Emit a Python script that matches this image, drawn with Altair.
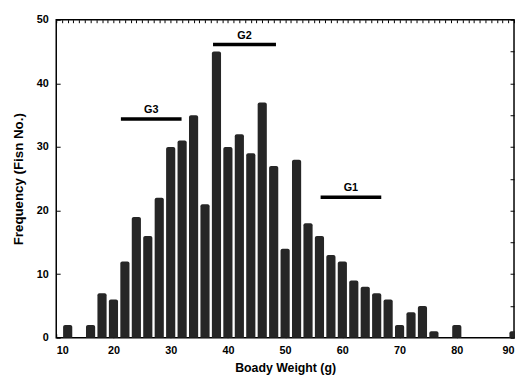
import altair as alt
import pandas as pd

# Histogram of body weight (bin centres in g) and counts
weights = [12, 14, 16, 18, 20, 22, 24, 26, 28, 30, 32, 34, 36, 38, 40, 42, 44, 46, 48, 50,
           52, 54, 56, 58, 60, 62, 64, 66, 68, 70, 72, 74, 76, 78, 80, 82, 84, 86, 88, 90]
counts = [2, 0, 2, 7, 6, 12, 19, 16, 22, 30, 31, 35, 21, 45, 30, 32, 29, 37, 27, 14,
          28, 18, 16, 13, 12, 9, 8, 7, 6, 2, 4, 5, 1, 0, 2, 0, 0, 0, 0, 1]

# Group markers
group_names = ["G1", "G2", "G3"]
group_start = [56.2, 37.4, 21.3]
group_end = [66.8, 48.4, 31.9]
group_y = [22.1, 46.1, 34.4]

x_ticks = [10, 20, 30, 40, 50, 60, 70, 80, 90]
y_ticks = [0, 10, 20, 30, 40, 50]

bars_df = pd.DataFrame({"w": weights, "n": counts})
grp_df = pd.DataFrame({"g": group_names, "s": group_start, "e": group_end, "y": group_y})

FONT = "Liberation Sans"
xs = alt.Scale(domain=[10, 90], nice=False, zero=False)
ys = alt.Scale(domain=[0, 50], nice=False)

bars = alt.Chart(bars_df).transform_filter("datum.n > 0").transform_calculate(
    x0="datum.w - 0.8", x1="datum.w + 0.8"
).mark_bar(color="#262626", cornerRadiusTopLeft=2, cornerRadiusTopRight=2).encode(
    x=alt.X("x0:Q", scale=xs, title="Boady Weight (g)",
            axis=alt.Axis(orient="bottom", values=x_ticks, domain=False, grid=False,
                          offset=-4, tickSize=4, tickColor="black", labelPadding=7,
                          labelFont=FONT, labelFontWeight="bold", labelFontSize=11,
                          labelColor="black", titleFont=FONT, titleFontWeight="bold",
                          titleFontSize=12.5, titleColor="black", titlePadding=6)),
    x2="x1:Q",
    y=alt.Y("n:Q", scale=ys, title="Frequency (Fisn No.)",
            axis=alt.Axis(orient="left", values=y_ticks, domain=False, grid=False,
                          offset=-4, tickSize=4, tickColor="black", labelPadding=8,
                          labelFont=FONT, labelFontWeight="bold", labelFontSize=11,
                          labelColor="black", titleFont=FONT, titleFontWeight="bold",
                          titleFontSize=13.5, titleColor="black", titlePadding=11)),
    y2=alt.datum(0),
)

frame_axes = alt.Chart(bars_df).mark_point(opacity=0).encode(
    x=alt.X("w:Q", scale=xs,
            axis=alt.Axis(orient="top", values=list(range(10, 91)), domain=False, grid=False,
                          labels=False, title=None, offset=-3, tickSize=3, tickColor="black")),
    y=alt.Y("n:Q", scale=ys,
            axis=alt.Axis(orient="right", values=[0, 5, 10, 15, 20, 25, 30, 35, 40, 45, 50],
                          domain=False, grid=False, labels=False, title=None,
                          offset=-4, tickSize=4, tickColor="black")),
)

lines = alt.Chart(grp_df).mark_rule(color="black", strokeWidth=3.5).encode(
    x=alt.X("s:Q", scale=xs, axis=None),
    x2="e:Q",
    y=alt.Y("y:Q", scale=ys, axis=None),
)

labels = alt.Chart(grp_df).transform_calculate(m="(datum.s + datum.e) / 2").mark_text(
    font=FONT, fontWeight="bold", fontSize=11, color="black", baseline="bottom", dy=-4
).encode(
    x=alt.X("m:Q", scale=xs, axis=None),
    y=alt.Y("y:Q", scale=ys, axis=None),
    text="g:N",
)

chart = alt.layer(bars, frame_axes, lines, labels).resolve_axis(
    x="independent", y="independent"
).properties(
    width=465, height=323,
    padding={"left": 49, "top": 9, "right": 1, "bottom": 40},
    autosize="none",
    background="white",
).configure_view(stroke="black", strokeWidth=1.5)

chart.save("out.html", embed_options={"renderer": "svg", "actions": False})
